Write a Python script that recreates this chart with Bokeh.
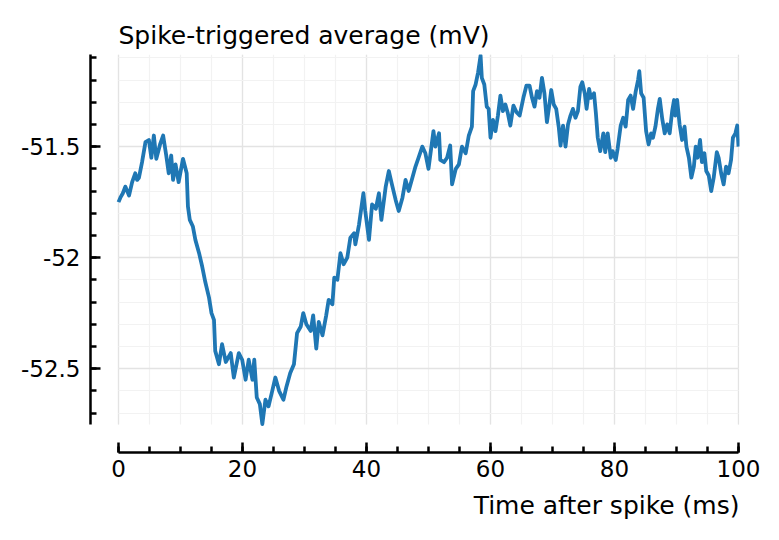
from bokeh.plotting import figure
from bokeh.models import Range1d, FixedTicker, Title, CustomJSTickFormatter
from bokeh.embed import file_html
from bokeh.resources import INLINE

# ---- data ----
t_ms = [0.0, 0.3, 0.7, 1.1, 1.4, 1.7, 2.2, 2.7, 3.0, 3.3, 3.8, 4.35, 4.9, 5.3, 5.7, 6.1, 6.7, 7.2, 7.7, 8.1,
        8.5, 8.8, 9.2, 9.7, 10.4, 11.0, 11.2, 11.5, 12.0, 12.4, 13.0, 13.5, 14.0, 14.6, 15.0, 15.4, 15.6, 16.2,
        16.7, 17.3, 18.1, 18.6, 19.4, 19.95, 20.5, 21.0, 21.6, 21.9, 22.3, 22.8, 23.2, 23.7, 24.2, 24.8, 25.3,
        25.9, 26.6, 27.1, 27.7, 28.3, 28.8, 29.4, 29.8, 30.3, 31.0, 31.4, 31.9, 32.3, 32.9, 33.5, 33.9, 34.5,
        34.8, 35.3, 35.8, 36.3, 36.9, 37.4, 38.0, 38.2, 38.8, 39.5, 39.8, 40.4, 40.9, 41.5, 42.0, 42.4, 43.1,
        43.6, 44.1, 44.7, 45.2, 45.8, 46.3, 46.8, 47.4, 47.9, 48.4, 49.0, 49.5, 50.0, 50.8, 51.1, 51.7, 51.9,
        52.5, 53.0, 53.5, 53.8, 54.4, 54.9, 55.4, 56.0, 56.5, 57.0, 57.2, 57.6, 58.0, 58.4, 58.6, 59.0, 59.4,
        59.7, 60.0, 60.4, 60.8, 61.2, 61.6, 62.0, 62.4, 62.8, 63.2, 63.7, 64.2, 64.7, 65.3, 65.8, 66.3, 66.7,
        67.1, 67.5, 67.9, 68.3, 68.7, 69.1, 69.5, 69.8, 70.2, 70.6, 71.0, 71.3, 71.7, 72.1, 72.5, 72.9, 73.3,
        73.7, 74.1, 74.5, 74.8, 75.2, 75.5, 75.9, 76.2, 76.7, 77.0, 77.3, 77.7, 78.2, 78.5, 78.9, 79.4, 79.7,
        80.2, 80.5, 81.0, 81.4, 81.8, 82.2, 82.6, 83.0, 83.4, 83.8, 84.0, 84.3, 84.7, 85.1, 85.5, 85.9, 86.2,
        86.6, 87.0, 87.3, 87.7, 88.1, 88.5, 88.9, 89.3, 89.6, 89.8, 90.1, 90.5, 90.9, 91.3, 91.6, 92.0, 92.4,
        92.8, 93.1, 93.4, 93.8, 94.1, 94.5, 94.8, 95.2, 95.6, 96.0, 96.5, 96.8, 97.2, 97.6, 98.0, 98.4, 98.8,
        99.1, 99.5, 99.8, 100.0]
v_mV = [-51.75, -51.73, -51.71, -51.68, -51.70, -51.72, -51.66, -51.62, -51.65, -51.64, -51.57, -51.48, -51.47,
        -51.55, -51.45, -51.555, -51.49, -51.45, -51.54, -51.62, -51.54, -51.65, -51.58, -51.66, -51.555, -51.62,
        -51.77, -51.83, -51.86, -51.92, -51.98, -52.04, -52.11, -52.18, -52.25, -52.28, -52.42, -52.48, -52.39,
        -52.47, -52.43, -52.54, -52.43, -52.46, -52.55, -52.46, -52.55, -52.46, -52.63, -52.66, -52.75, -52.64,
        -52.67, -52.60, -52.54, -52.60, -52.64, -52.58, -52.52, -52.48, -52.34, -52.31, -52.25, -52.30, -52.33,
        -52.26, -52.41, -52.29, -52.35, -52.26, -52.19, -52.21, -52.09, -52.10, -51.98, -52.03, -52.00, -51.91,
        -51.89, -51.94, -51.85, -51.71, -51.79, -51.92, -51.76, -51.78, -51.71, -51.83, -51.68, -51.61, -51.67,
        -51.74, -51.79, -51.73, -51.65, -51.70, -51.64, -51.59, -51.55, -51.50, -51.53, -51.60, -51.43, -51.50,
        -51.44, -51.56, -51.57, -51.55, -51.495, -51.67, -51.60, -51.58, -51.50, -51.53, -51.45, -51.41, -51.25,
        -51.22, -51.165, -51.09, -51.19, -51.22, -51.32, -51.33, -51.46, -51.38, -51.43, -51.36, -51.27, -51.34,
        -51.31, -51.35, -51.405, -51.315, -51.345, -51.36, -51.28, -51.225, -51.225, -51.28, -51.32, -51.25,
        -51.28, -51.19, -51.26, -51.39, -51.31, -51.245, -51.31, -51.33, -51.41, -51.495, -51.405, -51.50,
        -51.40, -51.36, -51.33, -51.37, -51.34, -51.23, -51.21, -51.26, -51.33, -51.24, -51.28, -51.26, -51.35,
        -51.46, -51.52, -51.44, -51.525, -51.44, -51.55, -51.52, -51.56, -51.51, -51.405, -51.37, -51.41,
        -51.29, -51.27, -51.33, -51.255, -51.20, -51.16, -51.26, -51.28, -51.43, -51.49, -51.44, -51.46, -51.41,
        -51.33, -51.285, -51.375, -51.44, -51.40, -51.44, -51.34, -51.29, -51.36, -51.29, -51.40, -51.47, -51.41,
        -51.50, -51.55, -51.64, -51.59, -51.50, -51.55, -51.47, -51.57, -51.53, -51.61, -51.63, -51.70, -51.64,
        -51.525, -51.55, -51.62, -51.67, -51.59, -51.62, -51.56, -51.46, -51.44, -51.405, -51.50]

x_major = [0, 20, 40, 60, 80, 100]
x_minor = [0, 5, 10, 15, 20, 25, 30, 35, 40, 45, 50, 55, 60, 65, 70, 75, 80, 85, 90, 95, 100]
y_major = [-52.5, -52.0, -51.5]
y_minor = [-52.7, -52.6, -52.5, -52.4, -52.3, -52.2, -52.1, -52.0, -51.9, -51.8, -51.7, -51.6, -51.5,
           -51.4, -51.3, -51.2, -51.1]

title_text = "Spike-triggered average (mV)"
xlabel_text = "Time after spike (ms)"

# ---- layout constants ----
X_LO, X_HI = 0.0, 100.0
Y_LO, Y_HI = -52.752, -51.085
FONT = "DejaVu Sans"

W, H = 779, 540
BL, BR, BT, BB = 90, 40, 54, 88
frame_w = W - BL - BR
frame_h = H - BT - BB
px_x = 6.2          # pixels per ms
px_y = 222.0        # pixels per mV
x_start = X_LO - 28.0 / px_x
x_end = x_start + frame_w / px_x
y_end = Y_HI
y_start = Y_HI - frame_h / px_y

p = figure(width=W, height=H, output_backend="svg", toolbar_location=None,
           x_range=Range1d(x_start, x_end), y_range=Range1d(y_start, y_end),
           min_border_left=BL, min_border_right=BR, min_border_top=BT, min_border_bottom=BB)
p.outline_line_color = None
p.background_fill_color = "white"
p.border_fill_color = "white"

p.line(t_ms, v_mV, line_width=3.8, color="#1f77b4", line_join="round")

xt = FixedTicker(ticks=x_major, minor_ticks=x_minor)
yt = FixedTicker(ticks=y_major, minor_ticks=y_minor)

for ax, tk, b in ((p.xaxis[0], xt, (X_LO, X_HI)), (p.yaxis[0], yt, (Y_LO, Y_HI))):
    ax.ticker = tk
    ax.bounds = b
    ax.axis_line_width = 2.5
    ax.axis_line_color = "black"
    ax.major_tick_line_width = 2.5
    ax.minor_tick_line_width = 2.5
    ax.major_tick_line_color = "black"
    ax.minor_tick_line_color = "black"
    ax.major_tick_in = 10
    ax.major_tick_out = 0
    ax.minor_tick_in = 6
    ax.minor_tick_out = 0
    ax.major_label_text_font = FONT
    ax.major_label_text_font_size = "23px"
    ax.major_label_text_color = "black"

p.xaxis[0].major_label_standoff = 7
p.yaxis[0].major_label_standoff = 10
p.yaxis[0].formatter = CustomJSTickFormatter(code="return tick.toString()")

xg = p.xgrid[0]
xg.ticker = xt
xg.bounds = (X_LO, X_HI)
xg.cross_bounds = (Y_LO, Y_HI)
yg = p.ygrid[0]
yg.ticker = yt
yg.bounds = (Y_LO, Y_HI)
yg.cross_bounds = (X_LO, X_HI)
for g in (xg, yg):
    g.grid_line_color = "#e3e3e3"
    g.grid_line_width = 1.3
    g.minor_grid_line_color = "#f2f2f2"
    g.minor_grid_line_width = 1.2

p.title.text = title_text
p.title.align = "left"
p.title.offset = 28
p.title.standoff = 9
p.title.text_font = FONT
p.title.text_font_size = "25px"
p.title.text_font_style = "normal"
p.title.text_color = "black"

xl = Title(text=xlabel_text, align="right", standoff=18, text_font=FONT, text_font_size="25px",
           text_font_style="normal", text_color="black")
p.add_layout(xl, "below")

open("out.html", "w").write(file_html(p, INLINE))
